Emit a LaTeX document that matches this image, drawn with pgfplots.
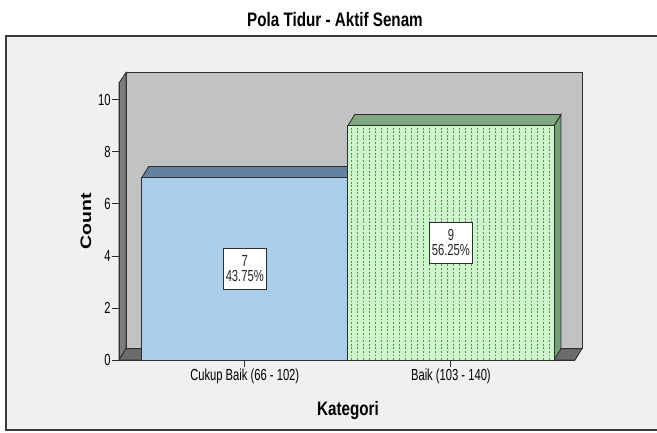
\documentclass[border=0pt]{standalone}
\usepackage{pgfplots}
\pgfplotsset{compat=1.18}
\usepackage{fontspec}
\setmainfont[FakeStretch=0.78]{Liberation Sans}
\newfontfamily\countfont{Liberation Sans}
\newfontfamily\tickfont[FakeStretch=0.7]{Liberation Sans}
\usetikzlibrary{patterns}
\pgfdeclarepatternformonly{vdots}{\pgfqpoint{-1pt}{-1pt}}{\pgfqpoint{7pt}{5pt}}{\pgfqpoint{6pt}{3.6pt}}{%
  \pgfpathrectangle{\pgfqpoint{2.6pt}{0pt}}{\pgfqpoint{0.75pt}{1.9pt}}%
  \pgfusepath{fill}%
}
\definecolor{framebg}{HTML}{F0F0F0}
\definecolor{framedk}{HTML}{3A3A3A}
\definecolor{wall}{HTML}{C2C2C2}
\definecolor{sidewall}{HTML}{7C7C7C}
\definecolor{floorc}{HTML}{6C6C6C}
\definecolor{dk}{HTML}{2E2E2E}
\definecolor{bluef}{HTML}{AACDEB}
\definecolor{bluetop}{HTML}{6482A0}
\definecolor{greenf}{HTML}{CCF7CC}
\definecolor{greentop}{HTML}{80A880}
\definecolor{greenside}{HTML}{74A074}
\definecolor{greendot}{HTML}{5A8A5A}
\begin{document}
\begin{tikzpicture}[x=1pt,y=1pt]
\useasboundingbox (0,0) rectangle (657,432);
\fill[white] (0,0) rectangle (657,432);
\fill[framebg] (6,2) rectangle (657,396);
\draw[framedk, line width=1.2pt] (657,396) -- (6,396) -- (6,2) -- (657,2);
\node[font=\fontsize{19.5}{22}\selectfont\bfseries] at (335,412) {Pola Tidur - Aktif Senam};
\begin{axis}[
  at={(119pt,72pt)}, anchor=south west, scale only axis,
  width=456pt, height=277pt,
  xmin=-0.61, xmax=1.602, ymin=0, ymax=10.65,
  clip=false, axis on top=true,
  axis x line*=bottom, axis y line*=left,
  axis line style={dk, line width=0.9pt},
  xtick={0,1}, xticklabels={Cukup Baik (66 - 102), Baik (103 - 140)},
  ytick={0,2,4,6,8,10},
  tick align=outside, major tick length=7pt,
  tick style={dk, line width=0.9pt},
  /pgf/number format/assume math mode=true,
  yticklabel style={font=\tickfont\fontsize{16}{18}\selectfont, inner sep=1.2pt},
  xticklabel style={font=\tickfont\fontsize{16}{18}\selectfont, inner sep=1.5pt},
]
% walls (decoration)
\fill[wall, draw=dk, line width=0.9pt] (axis cs:-0.576,0.44) rectangle (axis cs:1.636,11.05);
\filldraw[fill=sidewall, draw=dk, line width=0.9pt] (axis cs:-0.61,0) -- (axis cs:-0.61,10.65) -- (axis cs:-0.576,11.05) -- (axis cs:-0.576,0.44) -- cycle;
\filldraw[fill=floorc, draw=dk, line width=0.9pt] (axis cs:-0.61,0) -- (axis cs:-0.576,0.44) -- (axis cs:1.636,0.44) -- (axis cs:1.602,0) -- cycle;
% bar 1
\addplot[fill=bluetop, draw=dk, line width=0.9pt, mark=none] coordinates {(-0.5,7) (0.5,7) (0.534,7.44) (-0.466,7.44)} -- cycle;
\addplot[ybar, bar width=1, bar shift=0, fill=bluef, draw=dk, line width=0.9pt] coordinates {(0,7)};
% bar 2
\addplot[fill=greenside, draw=dk, line width=0.9pt, mark=none] coordinates {(1.5,0) (1.5,9) (1.534,9.44) (1.534,0.44)} -- cycle;
\addplot[fill=greentop, draw=dk, line width=0.9pt, mark=none] coordinates {(0.5,9) (1.5,9) (1.534,9.44) (0.534,9.44)} -- cycle;
\addplot[ybar, bar width=1, bar shift=0, fill=greenf, draw=dk, line width=0.9pt, postaction={pattern=vdots, pattern color=greendot}] coordinates {(1,9)};
% labels
\node[draw=dk, fill=white, align=center, inner sep=1pt, minimum width=43pt, minimum height=41pt, font=\tickfont\fontsize{16}{15}\selectfont, text=black!85] at (axis cs:0,3.5) {7\\43.75\%};
\node[draw=dk, fill=white, align=center, inner sep=1pt, minimum width=43pt, minimum height=41pt, font=\tickfont\fontsize{16}{15}\selectfont, text=black!85] at (axis cs:1,4.5) {9\\56.25\%};
\end{axis}
\node[font=\fontsize{19.5}{22}\selectfont\bfseries] at (348,21) {Kategori};
\node[rotate=90] at (86,211) {\scalebox{1}[0.78]{\countfont\fontsize{19.5}{22}\selectfont\bfseries Count}};
\end{tikzpicture}
\end{document}
